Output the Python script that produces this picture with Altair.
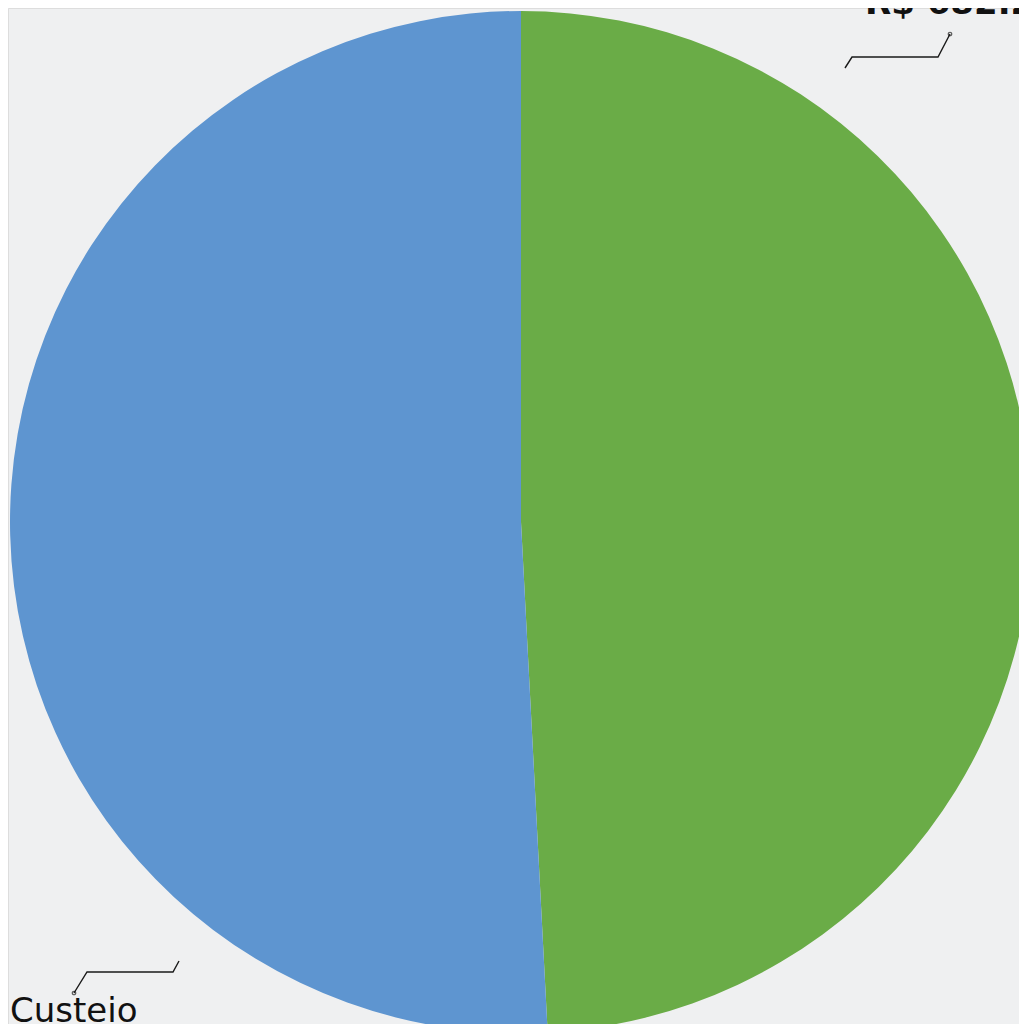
import altair as alt
import pandas as pd

# ---- data ----
categories = ["Outros", "Custeio"]          # green slice first (clockwise from 12 o'clock), then blue
values = [682.24, 705.30]                   # R$ (approx.) -> green ~49.2 %, blue ~50.8 %
slice_order = [1, 2]
slice_colors = ["#6AAC47", "#5E95D0"]

label_texts = ["R$ 682.24", "Custeio"]

# ---- layout (pixels inside the plot area) ----
W, H = 1011, 1016
CX, CY, R = 513, 514, 511

# leader lines (annotation geometry)
lead_x_top = [837, 844, 930, 942]
lead_y_top = [60, 49, 49, 26]
lead_x_bot = [66, 79, 165, 171]
lead_y_bot = [985, 964, 964, 953]

pie_df = pd.DataFrame({"cat": categories, "val": values, "ord": slice_order})

pie = alt.Chart(pie_df).mark_arc(radius=R).encode(
    theta=alt.Theta("val:Q", stack=True),
    color=alt.Color("cat:N", scale=alt.Scale(domain=categories, range=slice_colors), legend=None),
    order=alt.Order("ord:Q"),
    x=alt.value(CX),
    y=alt.value(CY),
)

lines_df = pd.DataFrame({
    "px": lead_x_top + lead_x_bot,
    "py": lead_y_top + lead_y_bot,
    "grp": ["top"] * 4 + ["bot"] * 4,
    "i": list(range(4)) + list(range(4)),
})

leaders = alt.Chart(lines_df).mark_line(color="#1a1a1a", strokeWidth=1.4).encode(
    x=alt.X("px:Q", scale=None, axis=None),
    y=alt.Y("py:Q", scale=None, axis=None),
    detail="grp:N",
    order="i:Q",
)

dots_df = pd.DataFrame({"px": [lead_x_top[3], lead_x_bot[0]], "py": [lead_y_top[3], lead_y_bot[0]]})
dots = alt.Chart(dots_df).mark_point(shape="circle", size=12, filled=False, color="#1a1a1a", strokeWidth=1.2).encode(
    x=alt.X("px:Q", scale=None, axis=None),
    y=alt.Y("py:Q", scale=None, axis=None),
)

top_label = alt.Chart(pd.DataFrame({"t": [label_texts[0]]})).mark_text(
    font="DejaVu Sans", fontSize=34, fontWeight="bold", color="#111111",
    align="left", baseline="alphabetic",
).encode(text="t:N", x=alt.value(857), y=alt.value(6))

bot_label = alt.Chart(pd.DataFrame({"t": [label_texts[1]]})).mark_text(
    font="DejaVu Sans", fontSize=34, color="#111111",
    align="left", baseline="alphabetic",
).encode(text="t:N", x=alt.value(2), y=alt.value(1014))

chart = alt.layer(pie, leaders, dots, top_label, bot_label).properties(
    width=W, height=H,
    autosize=alt.AutoSizeParams(type="none"),
    padding=0,
).configure_view(stroke=None).configure(background="#eff0f1")

chart.save("out.html", embed_options={"renderer": "svg", "actions": False})
